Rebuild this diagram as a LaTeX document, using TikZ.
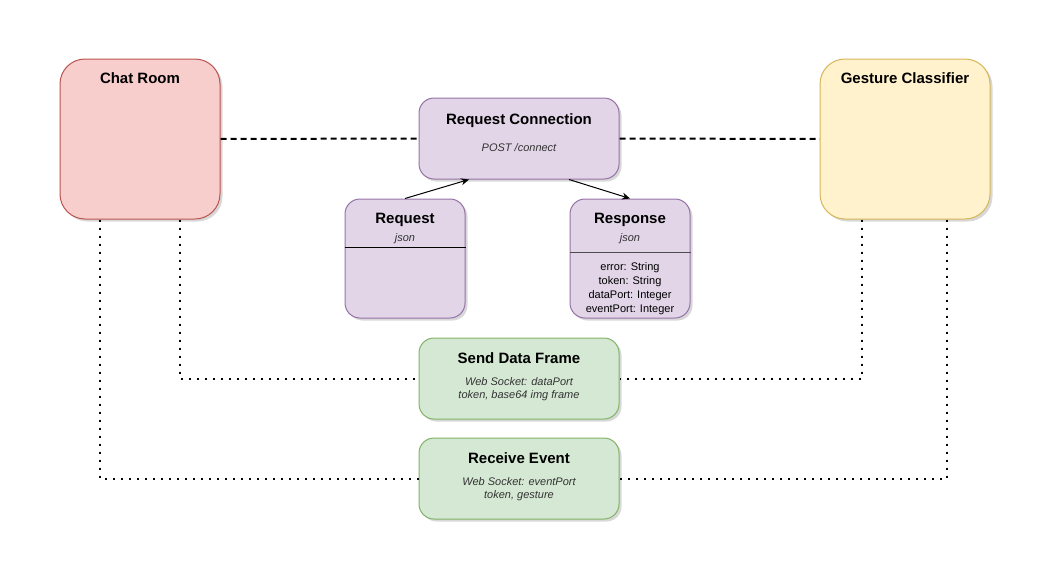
\documentclass[tikz,border=0pt]{standalone}
\usepackage{fontspec}
\setmainfont{Liberation Sans}
\usetikzlibrary{arrows.meta, positioning, shadows}
\definecolor{redFill}{HTML}{F8CECC}
\definecolor{redLine}{HTML}{B85450}
\definecolor{yellowFill}{HTML}{FFF2CC}
\definecolor{yellowLine}{HTML}{D6B656}
\definecolor{purpleFill}{HTML}{E1D5E7}
\definecolor{purpleLine}{HTML}{9673A6}
\definecolor{greenFill}{HTML}{D5E8D4}
\definecolor{greenLine}{HTML}{82B366}

\begin{document}
\begin{tikzpicture}[x=1pt, y=-1pt,
    card/.style={rectangle, rounded corners=15pt, draw=#1Line, fill=#1Fill,
                 line width=1pt, inner sep=0pt,
                 drop shadow={shadow xshift=2.5pt, shadow yshift=-2.5pt,
                              opacity=0.22, fill=black!70}},
    bigcard/.style={card=#1, rounded corners=25pt},
    title/.style={anchor=base, inner sep=0pt, font=\fontsize{15}{17}\selectfont\bfseries},
    note/.style={anchor=base, inner sep=0pt, align=center, text=black!80,
                 font=\fontsize{11}{13}\selectfont\itshape},
    fields/.style={anchor=base, inner sep=0pt, align=center,
                   font=\fontsize{11}{13.7}\selectfont},
    link/.style={-{Stealth[length=8pt, width=7pt]}, line width=1pt, black},
    dashline/.style={line width=2pt, dash pattern=on 6pt off 4pt, black},
    dotline/.style={line width=2pt, dash pattern=on 2pt off 6pt, black}
  ]
    \useasboundingbox (0,0) rectangle (1042,573);

    \node[bigcard=red, minimum width=160pt, minimum height=160pt] (chat) at (140,139) {};
    \node[bigcard=yellow, minimum width=170pt, minimum height=160pt] (gesture) at (905,139) {};
    \node[title] (chatTitle) at ([yshift=-24.5pt]chat.north) {Chat Room};
    \node[title] (gestureTitle) at ([yshift=-24.5pt]gesture.north) {Gesture Classifier};

    \node[card=purple, minimum width=200pt, minimum height=81pt] (conn) at (519,138.5) {};
    \node[title] (connTitle) at ([yshift=-26.5pt]conn.north) {Request Connection};
    \node[note] (connNote) at ([yshift=-53.5pt]conn.north) {POST /connect};

    \node[card=purple, minimum width=120pt, minimum height=119pt] (req) at (405,258.5) {};
    \node[title] (reqTitle) at ([yshift=-24.5pt]req.north) {Request};
    \node[note] (reqNote) at ([yshift=-42.5pt]req.north) {json};
    \draw[black, line width=1pt] ([yshift=-49pt]req.north west) -- ([yshift=-49pt]req.north east);

    \node[card=purple, minimum width=120pt, minimum height=119pt] (resp) at (630,258.5) {};
    \node[title] (respTitle) at ([yshift=-24.5pt]resp.north) {Response};
    \node[note] (respNote) at ([yshift=-42.5pt]resp.north) {json};
    \draw[black!70, line width=1.5pt] ([yshift=-54pt]resp.north west) -- ([yshift=-54pt]resp.north east);
    \node[fields] (respFields) at ([yshift=-113.5pt]resp.north)
      {error: String\\token: String\\dataPort: Integer\\eventPort: Integer};

    \node[card=green, minimum width=200pt, minimum height=81pt] (send) at (519,378.5) {};
    \node[title] (sendTitle) at ([yshift=-25.5pt]send.north) {Send Data Frame};
    \node[note] (sendNote) at ([yshift=-60.5pt]send.north) {Web Socket: dataPort\\token, base64 img frame};

    \node[card=green, minimum width=200pt, minimum height=81pt] (recv) at (519,478.5) {};
    \node[title] (recvTitle) at ([yshift=-25.5pt]recv.north) {Receive Event};
    \node[note] (recvNote) at ([yshift=-60.5pt]recv.north) {Web Socket: eventPort\\token, gesture};

    \draw[dashline] (chat.east) -- (conn.west);
    \draw[dashline] (conn.east) -- (gesture.west);

    \draw[link] (req.north) -- ([xshift=-50pt]conn.south);
    \draw[link] ([xshift=50pt]conn.south) -- (resp.north);

    \draw[dotline] ([xshift=40pt]chat.south) |- (send.west);
    \draw[dotline] ([xshift=-40pt]chat.south) |- (recv.west);
    \draw[dotline] ([xshift=-43pt]gesture.south) |- (send.east);
    \draw[dotline] ([xshift=42pt]gesture.south) |- (recv.east);
  \end{tikzpicture}
\end{document}
